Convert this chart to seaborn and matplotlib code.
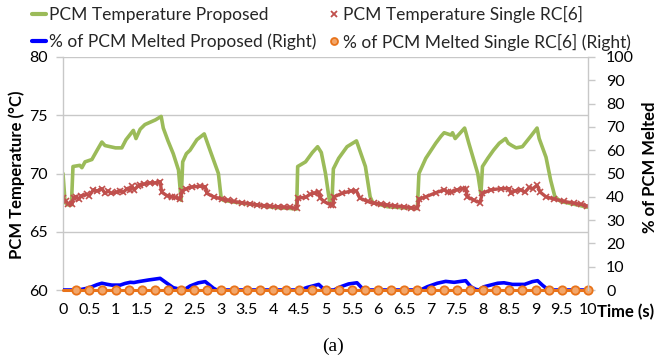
import matplotlib
matplotlib.use("Agg")
import matplotlib.pyplot as plt
import seaborn as sns
from matplotlib.lines import Line2D

sns.set_theme(style="white")
plt.rcParams['font.family'] = ['Lato', 'DejaVu Sans']

# ---------------- data ----------------
green_t = [0.00, 0.04, 0.10, 0.16, 0.19, 0.32, 0.36, 0.42, 0.55, 0.65, 0.74, 0.80, 0.90, 1.00, 1.12,
           1.20, 1.34, 1.39, 1.47, 1.56, 1.66, 1.76, 1.87, 1.91, 2.00, 2.10, 2.20, 2.25, 2.28, 2.35,
           2.42, 2.55, 2.69, 2.80, 2.96, 3.01, 3.05, 3.19, 3.40, 3.70, 4.00, 4.33, 4.45, 4.47, 4.62,
           4.75, 4.85, 4.92, 5.00, 5.08, 5.12, 5.15, 5.25, 5.41, 5.59, 5.76, 5.85, 5.90, 6.18, 6.50,
           6.75, 6.78, 6.91, 7.10, 7.20, 7.26, 7.39, 7.42, 7.47, 7.65, 7.73, 7.90, 7.96, 7.99, 8.09,
           8.20, 8.31, 8.43, 8.48, 8.55, 8.63, 8.75, 8.91, 9.03, 9.07, 9.20, 9.29, 9.37, 9.48, 9.80,
           9.99]
green_T = [70.0, 67.5, 67.3, 67.3, 70.6, 70.7, 70.5, 71.0, 71.2, 72.0, 72.7, 72.4, 72.3, 72.2, 72.2,
           72.9, 73.7, 73.0, 73.8, 74.2, 74.4, 74.6, 74.9, 73.9, 72.8, 71.7, 70.3, 67.7, 71.0, 71.7,
           72.0, 72.9, 73.4, 72.0, 70.0, 68.0, 67.7, 67.6, 67.45, 67.3, 67.1, 67.0, 66.95, 70.6, 71.0,
           71.8, 72.3, 71.8, 70.0, 67.5, 67.3, 70.4, 71.3, 72.3, 72.8, 70.6, 68.0, 67.5, 67.15, 67.05,
           67.0, 70.0, 71.3, 72.6, 73.2, 73.5, 73.3, 73.5, 73.0, 73.9, 72.6, 70.0, 68.2, 70.6, 71.3,
           72.0, 72.6, 73.0, 72.6, 72.4, 72.2, 72.3, 73.2, 73.9, 73.0, 71.4, 69.4, 68.0, 67.6, 67.3,
           67.1]

red_t = [0.00, 0.05, 0.10, 0.17, 0.20, 0.25, 0.30, 0.35, 0.45, 0.50, 0.58, 0.65, 0.74, 0.80, 0.86,
         0.92, 1.02, 1.08, 1.15, 1.22, 1.28, 1.31, 1.36, 1.42, 1.47, 1.55, 1.66, 1.75, 1.85, 1.88,
         1.98, 2.08, 2.14, 2.23, 2.27, 2.35, 2.46, 2.60, 2.71, 2.74, 2.87, 3.03, 3.15, 3.25, 3.40,
         3.57, 3.70, 3.82, 3.95, 4.10, 4.20, 4.33, 4.45, 4.47, 4.62, 4.70, 4.78, 4.87, 4.90, 4.97,
         5.10, 5.14, 5.16, 5.32, 5.48, 5.59, 5.65, 5.80, 5.92, 6.05, 6.18, 6.33, 6.49, 6.62, 6.75,
         6.78, 6.91, 7.10, 7.26, 7.33, 7.39, 7.50, 7.61, 7.67, 7.70, 7.83, 7.94, 7.99, 8.15, 8.34,
         8.50, 8.53, 8.60, 8.72, 8.80, 8.88, 8.95, 9.03, 9.09, 9.20, 9.36, 9.55, 9.74, 9.87, 9.99]
red_T = [67.9, 67.6, 67.4, 67.35, 67.9, 68.0, 67.8, 68.1, 68.2, 68.1, 68.6, 68.5, 68.7, 68.3, 68.5,
         68.3, 68.4, 68.5, 68.4, 68.7, 68.6, 68.9, 68.6, 68.9, 69.0, 69.1, 69.2, 69.2, 69.3, 68.4,
         68.1, 68.0, 67.95, 67.8, 68.5, 68.7, 68.85, 68.9, 68.87, 68.3, 68.0, 67.8, 67.7, 67.6, 67.5,
         67.4, 67.3, 67.25, 67.2, 67.15, 67.12, 67.1, 67.0, 67.9, 67.95, 68.2, 68.3, 68.4, 67.9, 67.6,
         67.3, 67.3, 68.0, 68.3, 68.5, 68.5, 67.9, 67.6, 67.45, 67.38, 67.3, 67.22, 67.15, 67.08, 67.0,
         67.8, 68.0, 68.35, 68.6, 68.4, 68.4, 68.6, 68.7, 68.7, 68.0, 67.7, 67.5, 68.3, 68.6, 68.7,
         68.7, 68.3, 68.5, 68.6, 68.4, 68.8, 68.7, 69.0, 68.4, 68.0, 67.8, 67.6, 67.45, 67.35, 67.2]

blue_t = [0.00, 0.30, 0.45, 0.55, 0.65, 0.74, 0.85, 0.93, 1.09, 1.18, 1.28, 1.35, 1.44, 1.63, 1.85,
          1.98, 2.10, 2.23, 2.30, 2.42, 2.58, 2.71, 2.87, 2.93, 4.52, 4.65, 4.87, 4.97, 5.00, 5.16,
          5.29, 5.44, 5.60, 5.70, 5.76, 6.81, 6.94, 7.13, 7.29, 7.45, 7.67, 7.77, 7.86, 7.92, 8.02,
          8.28, 8.40, 8.56, 8.79, 8.94, 9.04, 9.13, 9.23, 9.28, 10.0]
blue_p = [0.0, 0.0, 0.7, 1.4, 2.3, 2.9, 2.4, 2.1, 2.1, 2.8, 3.3, 3.2, 3.6, 4.3, 5.0,
          2.9, 1.0, 0.3, 0.0, 1.7, 3.1, 3.6, 0.7, 0.0, 0.0, 1.1, 2.4, 0.3, 0.0, 0.0,
          1.4, 2.6, 3.1, 0.7, 0.0, 0.0, 1.4, 2.9, 3.7, 3.3, 4.0, 1.4, 0.3, 0.0, 1.4,
          2.9, 3.1, 2.4, 2.4, 3.6, 4.0, 2.1, 0.3, 0.0, 0.0]

orange_t = [0, 0.25, 0.5, 0.75, 1, 1.25, 1.5, 1.75, 2, 2.25, 2.5, 2.75, 3, 3.25, 3.5, 3.75, 4,
            4.25, 4.5, 4.75, 5, 5.25, 5.5, 5.75, 6, 6.25, 6.5, 6.75, 7, 7.25, 7.5, 7.75, 8,
            8.25, 8.5, 8.75, 9, 9.25, 9.5, 9.75, 10]
orange_p = [0] * 41

x_ticks = [0, 0.5, 1, 1.5, 2, 2.5, 3, 3.5, 4, 4.5, 5, 5.5, 6, 6.5, 7, 7.5, 8, 8.5, 9, 9.5, 10]
x_ticklabels = ["0", "0.5", "1", "1.5", "2", "2.5", "3", "3.5", "4", "4.5", "5", "5.5", "6",
                "6.5", "7", "7.5", "8", "8.5", "9", "9.5", "10"]
left_ticks = [60, 65, 70, 75, 80]
right_ticks = [0, 10, 20, 30, 40, 50, 60, 70, 80, 90, 100]

legend_labels = ["PCM Temperature Proposed", "% of PCM Melted Proposed (Right)",
                 "PCM Temperature Single RC[6]", "% of PCM Melted Single RC[6] (Right)"]

# ---------------- style ----------------
GREEN = '#9BBB59'
RED = '#C0504D'
BLUE = '#0000FF'
ORANGE = '#E8731A'
ORANGE_FACE = '#F2A66A'
GRID = '#C8C8C8'

W, H = 665, 362
fig = plt.figure(figsize=(W / 100, H / 100), dpi=100)
L, R, T, B = 63, 588, 57, 290
ax = fig.add_axes([L / W, 1 - B / H, (R - L) / W, (B - T) / H])
ax2 = ax.twinx()

sns.lineplot(x=green_t, y=green_T, ax=ax, color=GREEN, linewidth=2.6,
             estimator=None, sort=False)
sns.lineplot(x=red_t, y=red_T, ax=ax, color=RED, linewidth=2.4, marker='x',
             markersize=4, markeredgewidth=1.2, markeredgecolor=RED,
             estimator=None, sort=False)
sns.lineplot(x=blue_t, y=blue_p, ax=ax2, color=BLUE, linewidth=2.6,
             estimator=None, sort=False)
sns.lineplot(x=orange_t, y=orange_p, ax=ax2, color=ORANGE, linewidth=2.2, marker='o',
             markersize=6, markerfacecolor=ORANGE_FACE, markeredgecolor=ORANGE,
             markeredgewidth=1.3, markevery=slice(1, None), estimator=None, sort=False,
             clip_on=False)

ax.set_xlim(0, 10)
ax.set_ylim(60, 80)
ax2.set_ylim(0, 100)

ax.set_xticks(x_ticks)
ax.set_xticklabels(x_ticklabels)
ax.set_yticks(left_ticks)
ax2.set_yticks(right_ticks)

ax.yaxis.grid(True, color=GRID, linewidth=1)
ax.xaxis.grid(False)
ax2.grid(False)

for a in (ax, ax2):
    for s in a.spines.values():
        s.set_visible(False)
ax.spines['left'].set_visible(True)
ax.spines['left'].set_color(GRID)
ax.spines['left'].set_linewidth(1)
ax2.spines['right'].set_visible(True)
ax2.spines['right'].set_color(GRID)
ax2.spines['right'].set_linewidth(1)

ax.tick_params(axis='x', length=0, pad=9, labelsize=11.5, colors='black')
ax.tick_params(axis='y', direction='out', length=5, width=1, color=GRID,
               pad=6, labelsize=11.5, labelcolor='black', left=True)
ax2.tick_params(axis='y', direction='out', length=5, width=1, color=GRID,
                pad=8, labelsize=11.5, labelcolor='black', right=True)

ax.set_xlabel("")
ax.set_ylabel("PCM Temperature (°C)", fontsize=12, fontweight='bold', color='black')
ax.yaxis.set_label_coords(-0.072, 0.494)
ax2.set_ylabel("% of PCM Melted", fontsize=12, fontweight='bold', color='black')
ax2.yaxis.set_label_coords(1.103, 0.526)

fig.text(597 / W, 1 - 312 / H, "Time (s)", fontsize=12, fontweight='bold',
         ha='left', va='center', color='black')
fig.text(333 / W, 1 - 346 / H, "(a)", fontsize=14, ha='center', va='center',
         family=['Liberation Serif'], color='black')

handles = [Line2D([], [], color=GREEN, linewidth=3),
           Line2D([], [], color=BLUE, linewidth=3),
           Line2D([], [], color=RED, linestyle='none', marker='x', markersize=4,
                  markeredgewidth=1.3),
           Line2D([], [], color=ORANGE, linestyle='none', marker='o', markersize=5,
                  markerfacecolor=ORANGE_FACE, markeredgecolor=ORANGE, markeredgewidth=1.3)]
fig.legend(handles, legend_labels, ncol=2, loc='upper left', bbox_to_anchor=(22 / W, 1.012),
           frameon=False, fontsize=12.5, handlelength=0.8, handletextpad=0.15,
           columnspacing=0.6, labelspacing=0.6, borderaxespad=0.2)

fig.savefig("out.png", dpi=100)
